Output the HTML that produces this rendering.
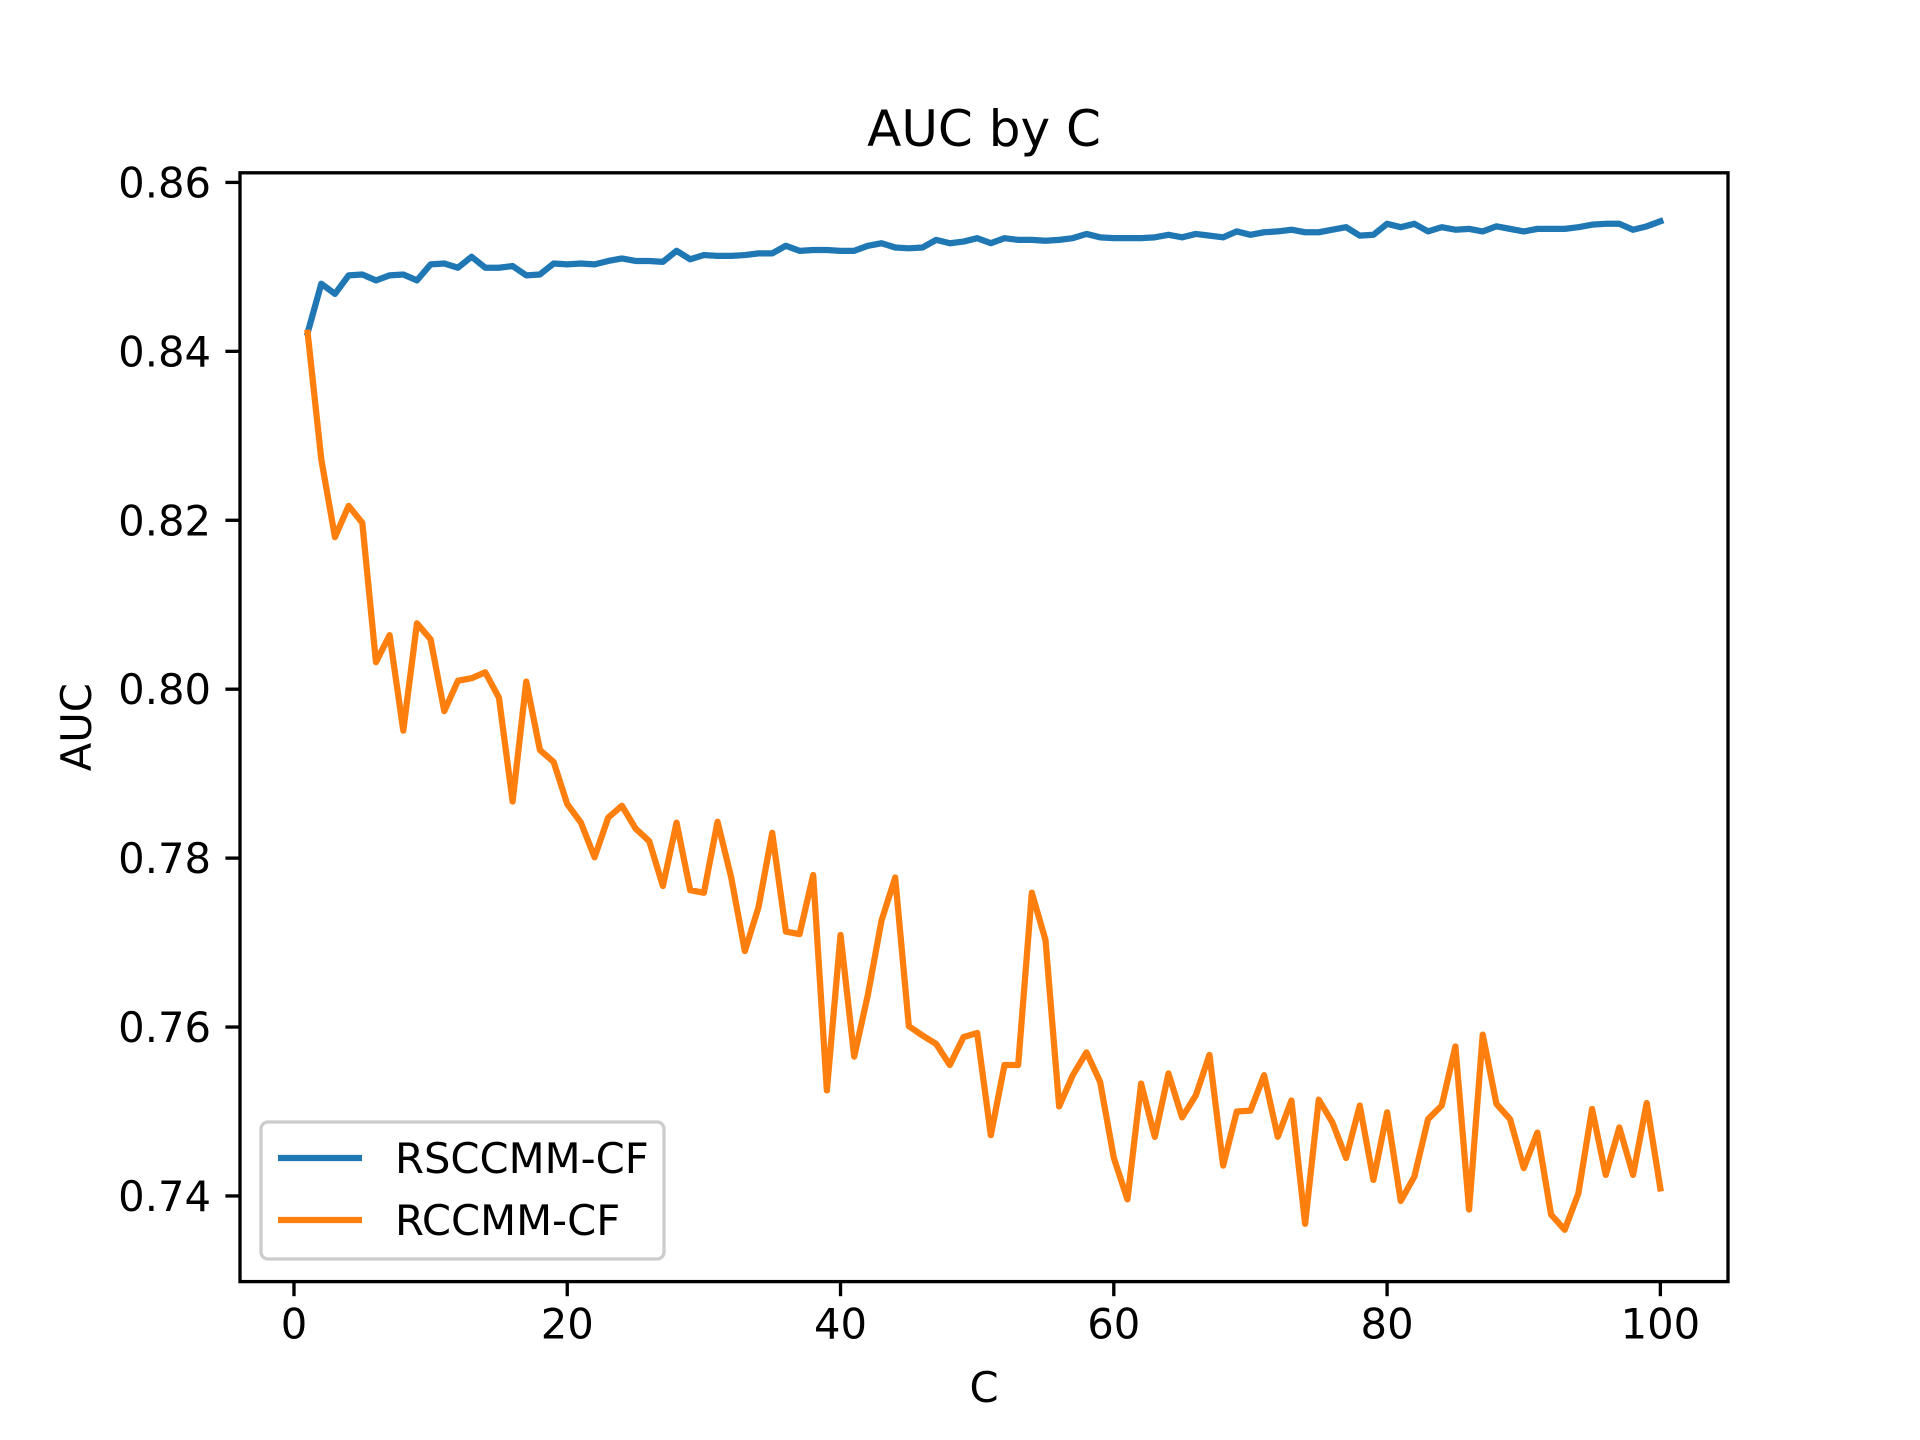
<!DOCTYPE html>
<html><head><meta charset="utf-8"><style>
html,body{margin:0;padding:0;background:#fff;}
svg{display:block;font-family:"DejaVu Sans","Liberation Sans",sans-serif;}
</style></head><body>
<svg id="chart" width="1920" height="1440" viewBox="0 0 1920 1440" xmlns="http://www.w3.org/2000/svg">
<rect width="1920" height="1440" fill="#fff"/>
<g id="plot"></g>
</svg>
<script>
const xTicks=[0,20,40,60,80,100];
const yTicks=[0.74,0.76,0.78,0.80,0.82,0.84,0.86];
const yTickLabels=["0.74","0.76","0.78","0.80","0.82","0.84","0.86"];
const seriesNames=["RSCCMM-CF","RCCMM-CF"];
const rsccmm=[0.8422,0.848,0.8468,0.849,0.8491,0.8484,0.849,0.8491,0.8484,0.8503,0.8504,0.8499,0.8512,0.8499,0.8499,0.8501,0.849,0.8491,0.8504,0.8503,0.8504,0.8503,0.8507,0.851,0.8507,0.8507,0.8506,0.8519,0.8509,0.8514,0.8513,0.8513,0.8514,0.8516,0.8516,0.8525,0.8519,0.852,0.852,0.8519,0.8519,0.8525,0.8528,0.8523,0.8522,0.8523,0.8532,0.8528,0.853,0.8534,0.8528,0.8534,0.8532,0.8532,0.8531,0.8532,0.8534,0.8539,0.8535,0.8534,0.8534,0.8534,0.8535,0.8538,0.8535,0.8539,0.8537,0.8535,0.8542,0.8538,0.8541,0.8542,0.8544,0.8541,0.8541,0.8544,0.8547,0.8537,0.8538,0.8551,0.8547,0.8551,0.8542,0.8547,0.8544,0.8545,0.8542,0.8548,0.8545,0.8542,0.8545,0.8545,0.8545,0.8547,0.855,0.8551,0.8551,0.8544,0.8548,0.8554];
const rccmm=[0.8422,0.8272,0.818,0.8217,0.8197,0.8032,0.8064,0.7951,0.8078,0.8059,0.7974,0.801,0.8013,0.802,0.799,0.7867,0.8009,0.7928,0.7914,0.7864,0.7842,0.7801,0.7848,0.7862,0.7835,0.782,0.7767,0.7842,0.7762,0.7759,0.7843,0.7777,0.769,0.7742,0.783,0.7713,0.771,0.778,0.7525,0.7709,0.7565,0.7638,0.7726,0.7777,0.7601,0.759,0.758,0.7555,0.7588,0.7593,0.7472,0.7555,0.7555,0.7759,0.7703,0.7506,0.7543,0.757,0.7535,0.7445,0.7396,0.7533,0.747,0.7545,0.7493,0.7519,0.7567,0.7436,0.75,0.7501,0.7543,0.747,0.7513,0.7367,0.7514,0.7487,0.7445,0.7507,0.7419,0.7499,0.7394,0.7423,0.7491,0.7507,0.7577,0.7384,0.7591,0.7509,0.7491,0.7433,0.7475,0.7378,0.736,0.7403,0.7503,0.7425,0.7481,0.7425,0.751,0.7409];

const NS="http://www.w3.org/2000/svg";
const L=240,R=1728,T=172.8,B=1281.6;
const xMin=-3.95,xMax=104.95,yMin=0.72986,yMax=0.86114;
function sx(v){return L+(v-xMin)/(xMax-xMin)*(R-L);}
function sy(v){return B-(v-yMin)/(yMax-yMin)*(B-T);}
const g=document.getElementById('plot');
function el(tag,attrs,text){const e=document.createElementNS(NS,tag);for(const k in attrs)e.setAttribute(k,attrs[k]);if(text!==undefined)e.textContent=text;g.appendChild(e);return e;}

function line(vals,color,name){
  const d=vals.map((v,i)=>(i?'L':'M')+sx(i+1).toFixed(2)+' '+sy(v).toFixed(2)).join(' ');
  const p=el('path',{d:d,fill:'none',stroke:color,'stroke-width':6.25,'stroke-linejoin':'round','stroke-linecap':'square'});
  
  
}
line(rsccmm,'#1f77b4','rsccmm-cf-line');
line(rccmm,'#ff7f0e','rccmm-cf-line');

const frame=el('rect',{x:L,y:T,width:R-L,height:B-T,fill:'none',stroke:'#000','stroke-width':3.33});



xTicks.forEach(t=>{
  const x=sx(t);
  const tk=el('line',{x1:x,x2:x,y1:B,y2:B+14.6,stroke:'#000','stroke-width':3.33});
  
  
  const lb=el('text',{x:x,y:B+57,'font-size':41.7,'text-anchor':'middle',fill:'#000'},String(t));
  
  
});
yTicks.forEach((t,i)=>{
  const y=sy(t);
  const tk=el('line',{x1:L-14.6,x2:L,y1:y,y2:y,stroke:'#000','stroke-width':3.33});
  
  
  const lb=el('text',{x:L-29,y:y+15,'font-size':41.7,'text-anchor':'end',fill:'#000'},yTickLabels[i]);
  
  
});

const title=el('text',{x:(L+R)/2,y:146,'font-size':50,'text-anchor':'middle',fill:'#000'},'AUC by C');


const xl=el('text',{x:(L+R)/2,y:1402,'font-size':41.7,'text-anchor':'middle',fill:'#000'},'C');


const yl=el('text',{x:0,y:0,'font-size':41.7,'text-anchor':'middle',fill:'#000',transform:'translate(91,'+((T+B)/2)+') rotate(-90)'},'AUC');



const lg=el('rect',{x:261,y:1122,width:403,height:137,rx:7,fill:'#fff','fill-opacity':0.8,stroke:'#ccc','stroke-width':3.3});


const colors=['#1f77b4','#ff7f0e'];
[1158,1220].forEach((y,i)=>{
  const ln=el('line',{x1:278,x2:362,y1:y,y2:y,stroke:colors[i],'stroke-width':6.25});
  
  
  const tx=el('text',{x:395,y:y+15,'font-size':41.7,fill:'#000'},seriesNames[i]);
  
  
});
</script>
</body></html>
